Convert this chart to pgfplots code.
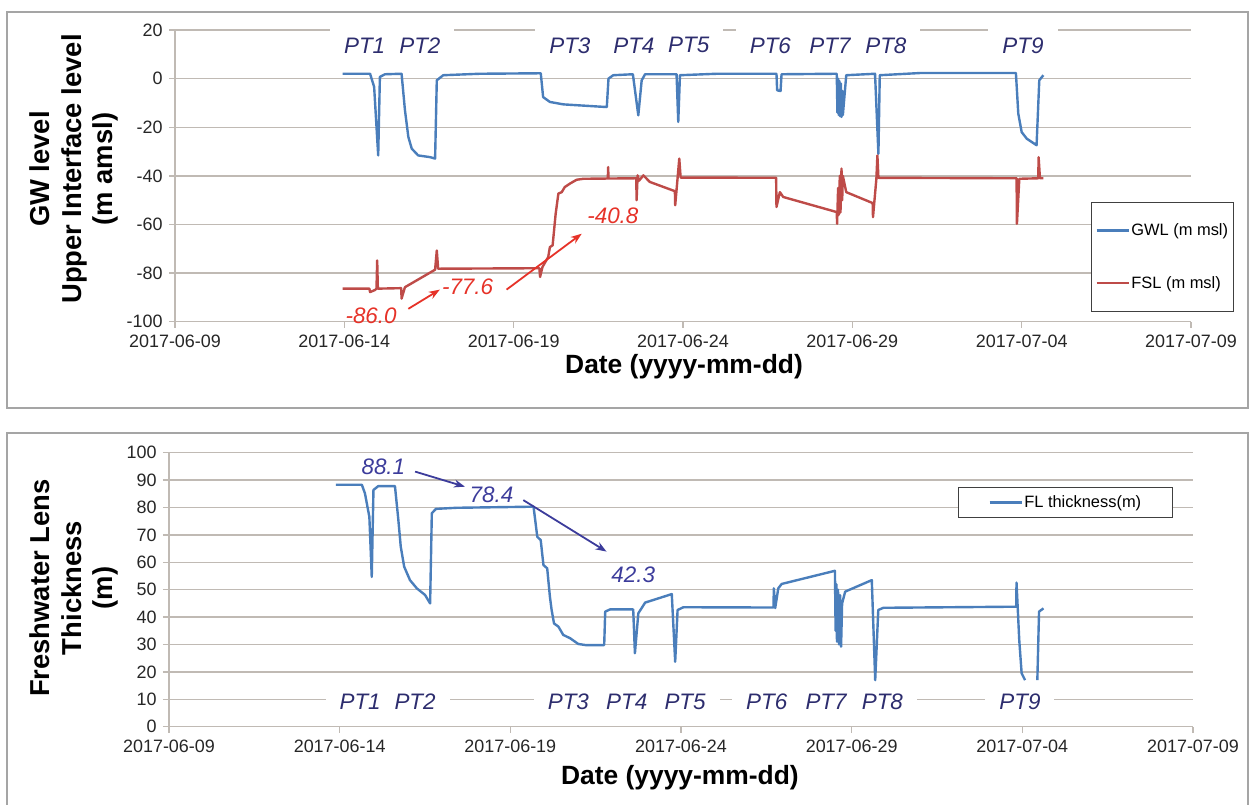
\documentclass[border=0pt]{standalone}
\usepackage{fontspec}
\setmainfont{Liberation Sans}
\usepackage{pgfplots}
\pgfplotsset{compat=1.18}
\usepackage{pgfplotstable}
\usetikzlibrary{arrows.meta}

\definecolor{gwl}{RGB}{74,126,187}
\definecolor{fsl}{RGB}{190,75,72}
\definecolor{annred}{RGB}{230,50,40}
\definecolor{annblue}{RGB}{60,60,155}
\definecolor{ptcol}{RGB}{45,45,110}
\definecolor{gridc}{RGB}{192,186,180}
\definecolor{framec}{RGB}{165,165,165}

% days since 2017-06-09, level (m)
\pgfplotstableread{
d v
4.95 2.0
5.76 2.0
5.88 -3.4
6.00 -31.6
6.05 0.7
6.20 1.8
6.69 2.0
6.79 -13
6.89 -24
6.99 -28.8
7.18 -31.6
7.53 -32.3
7.68 -32.9
7.73 -0.7
7.92 1.4
9.00 2.0
10.80 2.2
10.87 -7.6
11.07 -9.6
11.47 -10.6
12.75 -11.7
12.80 0
12.94 1.4
13.52 1.8
13.68 -15.1
13.78 -0.7
13.88 1.8
14.81 1.8
14.86 -17.8
14.91 1.4
16.00 2.0
17.76 2.0
17.78 -4.8
17.88 -5.1
17.91 1.8
19.54 2.0
19.56 -14
19.58 0
19.60 -15
19.62 -1
19.64 -15.5
19.66 -2
19.68 -15.8
19.70 -5
19.72 -15
19.82 1.4
20.67 2.0
20.77 -30.9
20.81 1.4
22.00 2.3
24.83 2.3
24.90 -14.4
25.00 -22
25.15 -24.7
25.44 -27.4
25.52 -0.7
25.64 1.4
}\gwltab

\pgfplotstableread{
d v
4.95 -86.4
5.74 -86.4
5.76 -87.8
5.90 -87
5.95 -86.4
5.97 -74.8
5.99 -86.4
6.68 -86.2
6.69 -90.5
6.79 -85.8
7.68 -78.6
7.73 -70.7
7.77 -78.2
10.76 -78
10.78 -81.6
10.85 -77.5
11.02 -73.4
11.07 -69.3
11.15 -68.6
11.24 -55.6
11.32 -47.3
11.42 -46.7
11.51 -44.6
11.66 -43.2
11.86 -41.6
12.06 -41.2
12.78 -41.1
12.79 -36.4
12.80 -41.1
13.62 -41
13.63 -50
13.66 -39.8
13.70 -42
13.83 -39.8
14.02 -42.5
14.76 -46.3
14.77 -52.1
14.89 -32.9
14.93 -40.7
17.75 -40.8
17.76 -52.8
17.86 -46.7
17.96 -48.7
19.54 -54.9
19.55 -59.7
19.58 -45
19.60 -56
19.63 -40
19.65 -55
19.68 -37
19.70 -50
19.72 -40
19.82 -46.7
20.60 -51.2
20.61 -57
20.71 -41.2
20.74 -31.6
20.77 -40.8
24.85 -41
24.86 -59.7
24.93 -41.2
25.49 -41
25.50 -32.3
25.54 -41
25.64 -41
}\fsltab

\pgfplotstableread{
d v
4.89 88.3
5.65 88.3
5.74 85.2
5.87 76.6
5.94 54.7
5.99 86.4
6.13 87.8
6.62 87.8
6.72 75.4
6.79 65.7
6.89 58.4
7.06 53.5
7.26 50.5
7.50 48.1
7.65 45
7.70 77.9
7.82 79.5
8.43 79.9
10.68 80.3
10.79 69.3
10.89 68.1
10.97 59
11.08 57.8
11.16 47.4
11.21 42.6
11.28 37.7
11.41 36.5
11.55 33.5
11.75 32.3
11.99 30.2
12.20 29.8
12.75 29.8
12.78 42
12.92 42.8
13.60 42.8
13.65 26.8
13.75 41.4
13.95 45.3
14.73 48.4
14.83 23.7
14.90 42.6
15.07 43.6
17.71 43.5
17.72 50.5
17.76 43.3
17.85 50.5
17.95 52.1
19.51 56.9
19.53 35
19.55 52
19.57 31
19.60 50
19.63 30
19.66 48
19.69 29.2
19.72 45
19.81 49.3
20.59 53.5
20.69 17
20.78 42.6
20.93 43.4
24.82 43.8
24.83 52.6
24.91 31.6
24.98 19.5
25.08 17
25.25 nan
25.44 17
25.49 42
25.62 43.2
}\fltab

\tikzset{
  ptlab/.style={font=\fontsize{22.5}{26}\selectfont\itshape, text=ptcol, fill=white,
    inner xsep=14bp, inner ysep=9bp},
  annot/.style={font=\fontsize{22.5}{26}\selectfont\itshape},
}

\pgfplotsset{
  panel/.style={
    scale only axis, clip=false,
    axis x line*=bottom, axis y line*=left,
    axis line style={draw=gridc, line width=1.3bp, -},
    xmin=0, xmax=30,
    xtick={0,5,...,30},
    xticklabels={2017-06-09,2017-06-14,2017-06-19,2017-06-24,2017-06-29,2017-07-04,2017-07-09},
    ymajorgrids, grid style={draw=gridc, line width=1.3bp},
    tick align=outside, major tick length=6bp,
    tick style={draw=gridc, line width=1.3bp},
    tick label style={font=\fontsize{18}{21}\selectfont, text=black!85},
    xticklabel style={yshift=-4bp},
    yticklabel style={xshift=-3bp},
    xlabel={Date (yyyy-mm-dd)},
    xlabel style={font=\fontsize{26.5}{30}\selectfont\bfseries, anchor=center},
    ylabel style={align=center, font=\fontsize{27.5}{32}\selectfont\bfseries, anchor=center},
    legend style={font=\fontsize{16.5}{19}\selectfont, draw=black!75, line width=0.8bp,
      fill=white, cells={anchor=west}, nodes={inner sep=1.5bp}},
    legend image code/.code={\draw[#1] (0bp,0bp) -- (32bp,0bp);},
  },
}

\begin{document}
\begin{tikzpicture}
\path[use as bounding box] (0,0) rectangle (1250bp,-805bp);
\draw[framec, line width=2bp] (7bp,-12bp) rectangle (1248bp,-408bp);
\draw[framec, line width=2bp] (7bp,-433bp) rectangle (1248bp,-812bp);

\begin{axis}[panel,
  at={(175bp,-321.7bp)}, anchor=south west,
  width=1016bp, height=291.7bp,
  ymin=-100, ymax=20,
  ytick={-100,-80,-60,-40,-20,0,20},
  yticklabels={-100,-80,-60,-40,-20,0,20},
  ylabel={GW level\\Upper Interface level\\(m amsl)},
  ylabel style={at={(axis description cs:-0.0994,0.5235)}},
  xlabel style={at={(axis description cs:0.501,-0.155)}},
  legend style={at={(axis description cs:0.9016,0.4104)}, anchor=north west,
    inner xsep=4bp, inner ysep=20bp, row sep=36bp},
]
\addplot[gwl, line width=2.4bp, line join=round] table[x=d, y=v] {\gwltab};
\addlegendentry{GWL (m msl)}
\addplot[fsl, line width=2.4bp, line join=round] table[x=d, y=v] {\fsltab};
\addlegendentry{FSL (m msl)}

\node[ptlab] at (axis cs:5.60,13.7) {PT1};
\node[ptlab] at (axis cs:7.23,13.7) {PT2};
\node[ptlab] at (axis cs:11.66,13.7) {PT3};
\node[ptlab] at (axis cs:13.55,13.7) {PT4};
\node[ptlab] at (axis cs:15.17,13.7) {PT5};
\node[ptlab] at (axis cs:17.58,13.7) {PT6};
\node[ptlab] at (axis cs:19.34,13.7) {PT7};
\node[ptlab] at (axis cs:20.99,13.7) {PT8};
\node[ptlab] at (axis cs:25.04,13.7) {PT9};

\node[annot, text=annred] at (axis cs:5.79,-97.4) {-86.0};
\node[annot, text=annred] at (axis cs:8.64,-85.8) {-77.6};
\node[annot, text=annred] at (axis cs:12.93,-56.3) {-40.8};
\draw[annred, line width=1.8bp, -{Stealth[length=11bp,width=8bp]}] (axis cs:6.89,-94.7) -- (axis cs:7.82,-86.8);
\draw[annred, line width=1.8bp, -{Stealth[length=11bp,width=8bp]}] (axis cs:9.79,-86.8) -- (axis cs:12.01,-63.8);
\end{axis}

\begin{axis}[panel,
  at={(169bp,-726.7bp)}, anchor=south west,
  width=1024bp, height=274bp,
  ymin=0, ymax=100,
  ytick={0,10,20,30,40,50,60,70,80,90,100},
  yticklabels={0,10,20,30,40,50,60,70,80,90,100},
  ylabel={Freshwater Lens\\Thickness\\(m)},
  ylabel style={at={(axis description cs:-0.0928,0.506)}},
  xlabel style={at={(axis description cs:0.499,-0.187)}},
  legend style={at={(axis description cs:0.7705,0.8748)}, anchor=north west,
    inner xsep=30bp, inner ysep=7bp},
]
\addplot[gwl, line width=2.4bp, line join=round, unbounded coords=jump] table[x=d, y=v] {\fltab};
\addlegendentry{FL thickness(m)}

\node[ptlab] at (axis cs:5.60,9.1) {PT1};
\node[ptlab] at (axis cs:7.21,9.1) {PT2};
\node[ptlab] at (axis cs:11.70,9.1) {PT3};
\node[ptlab] at (axis cs:13.41,9.1) {PT4};
\node[ptlab] at (axis cs:15.12,9.1) {PT5};
\node[ptlab] at (axis cs:17.51,9.1) {PT6};
\node[ptlab] at (axis cs:19.25,9.1) {PT7};
\node[ptlab] at (axis cs:20.90,9.1) {PT8};
\node[ptlab] at (axis cs:24.93,9.1) {PT9};

\node[annot, text=annblue] at (axis cs:6.28,94.9) {88.1};
\node[annot, text=annblue] at (axis cs:9.45,84.6) {78.4};
\node[annot, text=annblue] at (axis cs:13.60,55.4) {42.3};
\draw[annblue, line width=1.8bp, -{Stealth[length=11bp,width=8bp]}] (axis cs:7.21,93.1) -- (axis cs:8.67,87.6);
\draw[annblue, line width=1.8bp, -{Stealth[length=11bp,width=8bp]}] (axis cs:10.38,82.7) -- (axis cs:12.82,63.9);
\end{axis}
\end{tikzpicture}
\end{document}
